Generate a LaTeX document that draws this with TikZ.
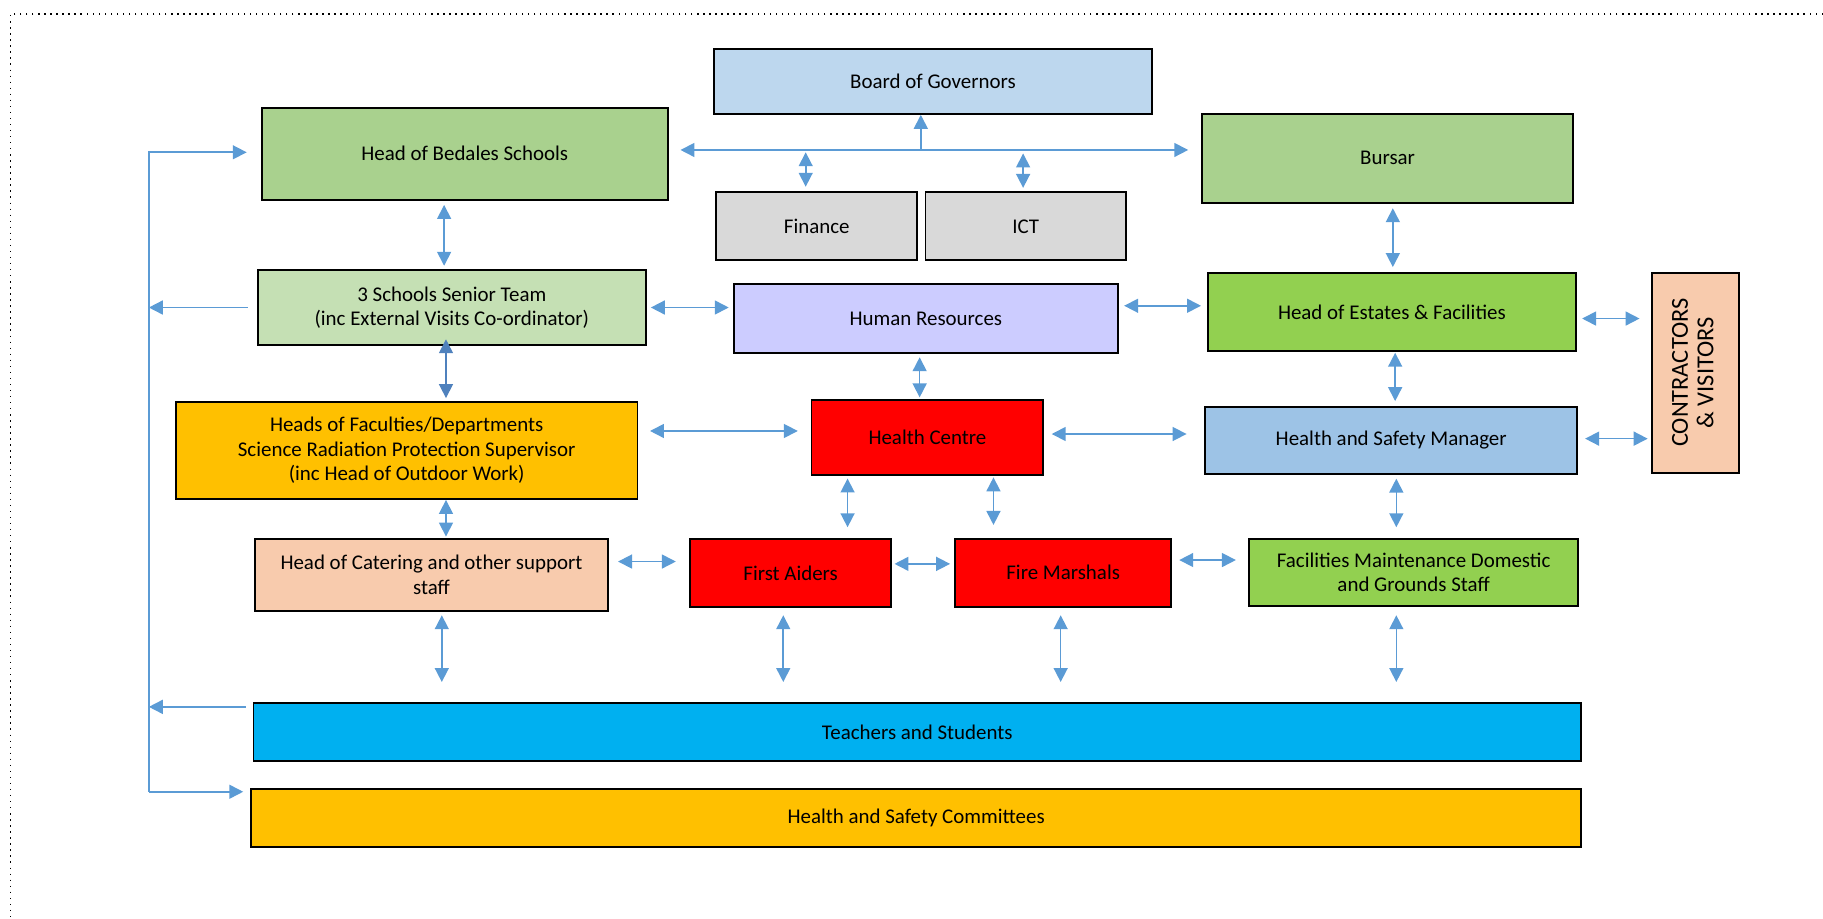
\documentclass[tikz,border=0pt]{standalone}
\usepackage{fontspec}
\setmainfont{Carlito}
\usepackage{xcolor}
\usepackage{tikz}
\usetikzlibrary{arrows.meta}

\definecolor{govblue}{HTML}{BDD7EE}
\definecolor{headgreen}{HTML}{A9D18E}
\definecolor{deptgrey}{HTML}{D9D9D9}
\definecolor{teamgreen}{HTML}{C5E0B4}
\definecolor{hrlilac}{HTML}{CCCCFF}
\definecolor{estgreen}{HTML}{92D050}
\definecolor{peach}{HTML}{F8CBAD}
\definecolor{amber}{HTML}{FFC000}
\definecolor{hsblue}{HTML}{9DC3E6}
\definecolor{skyblue}{HTML}{00B0F0}
\definecolor{linkblue}{HTML}{5B9BD5}
\definecolor{darklink}{HTML}{4F81BD}

\tikzset{
  box/.style={draw=black, line width=0.8pt, align=center, inner sep=2pt, font=\fontsize{9}{10.6}\selectfont},
  link/.style={draw=linkblue, line width=0.7pt, shorten <=2pt, shorten >=2pt},
}

\begin{document}
\begin{tikzpicture}[x=0.5pt, y=-0.5pt, >={Triangle[length=6pt,width=6pt]}]
\useasboundingbox (0,0) rectangle (1568,790);
\draw[dotted, line width=0.6pt] (1568,12) -- (9,12) -- (9,790);

\node[box, fill=govblue, minimum width=188.5pt, minimum height=28pt] (board) at (802.5,70) {Board of Governors};
\node[box, fill=headgreen, minimum width=174.75pt, minimum height=39.7pt] (bedales) at (399.75,132.3) {Head of Bedales Schools};
\node[box, fill=headgreen, minimum width=159.5pt, minimum height=38.15pt] (bursar) at (1193.5,136.15) {Bursar};
\node[box, fill=deptgrey, minimum width=86.5pt, minimum height=29.3pt] (finance) at (702.5,194.7) {Finance};
\node[box, fill=deptgrey, minimum width=86.25pt, minimum height=29.3pt] (ict) at (882.25,194.7) {ICT};
\node[box, fill=teamgreen, minimum width=167pt, minimum height=32.5pt] (senior) at (388.6,264.5) {3 Schools Senior Team\\(inc External Visits Co-ordinator)};
\node[box, fill=hrlilac, minimum width=165.35pt, minimum height=29.6pt] (hr) at (796.35,273.9) {Human Resources};
\node[box, fill=estgreen, minimum width=158.2pt, minimum height=33.75pt] (estates) at (1197.2,268.25) {Head of Estates \& Facilities};
\node[box, fill=peach, minimum width=37.3pt, minimum height=86.05pt, font=\fontsize{10.5}{11}\selectfont] (contractors) at (1458.3,320.55) {\rotatebox{90}{\begin{tabular}{@{}c@{}}CONTRACTORS\\\& VISITORS\end{tabular}}};
\node[box, fill=amber, minimum width=198.5pt, minimum height=41.7pt] (faculties) at (349.8,387.5) {Heads of Faculties/Departments\\Science Radiation Protection Supervisor\\(inc Head of Outdoor Work)};
\node[box, fill=red, minimum width=99.7pt, minimum height=32.4pt] (centre) at (797.7,376.4) {Health Centre};
\node[box, fill=hsblue, minimum width=160pt, minimum height=28.8pt] (manager) at (1196.6,378.6) {Health and Safety Manager};
\node[box, fill=peach, minimum width=151.85pt, minimum height=31.25pt] (catering) at (371.15,494.55) {Head of Catering and other support\\staff};
\node[box, fill=red, minimum width=86.55pt, minimum height=29.45pt] (aiders) at (680.05,492.75) {First Aiders};
\node[box, fill=red, minimum width=93.05pt, minimum height=29.35pt] (marshals) at (914.45,492.65) {Fire Marshals};
\node[box, fill=estgreen, minimum width=141.7pt, minimum height=28.85pt] (maint) at (1215.9,492.15) {Facilities Maintenance Domestic\\and Grounds Staff};
\node[box, fill=skyblue, minimum width=571pt, minimum height=25.1pt] (teachers) at (789,629.5) {Teachers and Students};
\node[box, fill=amber, minimum width=572pt, minimum height=24.9pt] (committees) at (788,703.9) {Health and Safety Committees};

\coordinate (junc) at (792,129);
\coordinate (ltop) at (128,131);
\coordinate (lbot) at (128,681);

% governors bar
\draw[link, <->, shorten <=5pt, shorten >=5.6pt] (bedales.east|-junc) -- (bursar.west|-junc);
\draw[link, ->, shorten <=0pt, shorten >=0pt] (junc) -- (board.south-|junc);
\draw[link, <->, shorten <=1pt, shorten >=2pt] (693,0|-junc) -- (finance.north-|693,0);
\draw[link, <->, shorten <=1.5pt, shorten >=1.5pt] (880,0|-junc) -- (ict.north-|880,0);

\draw[link, <->, shorten <=1.75pt, shorten >=1.3pt] (bedales.south-|382,0) -- (senior.north-|382,0);
\draw[link, <->] (bursar.south-|1198,0) -- (estates.north-|1198,0);
\draw[link, <->, draw=darklink, shorten <=-3pt, shorten >=1.3pt] (senior.south-|383.6,0) -- (faculties.north-|383.6,0);
\draw[link, <->, shorten <=1.5pt, shorten >=0.7pt] (hr.south-|791,0) -- (centre.north-|791,0);
\draw[link, <->, shorten <=0.3pt, shorten >=2pt] (estates.south-|1200,0) -- (manager.north-|1200,0);
\draw[link, <->, shorten <=0pt, shorten >=0.5pt] (faculties.south-|383.6,0) -- (catering.north-|383.6,0);
\draw[link, <->, shorten <=1pt, shorten >=4.5pt] (centre.south-|729,0) -- (aiders.north-|729,0);
\draw[link, <->, shorten <=0.5pt, shorten >=5.5pt] (centre.south-|854.5,0) -- (marshals.north-|854.5,0);
\draw[link, <->, shorten <=1.75pt, shorten >=4.5pt] (manager.south-|1201,0) -- (maint.north-|1201,0);
\foreach \n/\x/\s in {catering/380/1.3, aiders/673.7/3.1, marshals/912.3/3.2, maint/1201/3.7}
  \draw[link, <->, shorten <=\s pt, shorten >=8.5pt] (\n.south-|\x,0) -- (teachers.north-|\x,0);

\draw[link, <->, shorten <=1.7pt, shorten >=1.7pt] (senior.east) -- (hr.west|-senior.east);
\draw[link, <->, shorten <=2.2pt, shorten >=2.6pt] (hr.east|-0,263) -- (estates.west|-0,263);
\draw[link, <->, shorten <=2.3pt, shorten >=5pt] (estates.east|-0,274) -- (contractors.west|-0,274);
\draw[link, <->, shorten <=5pt, shorten >=5.5pt] (faculties.east|-0,370.7) -- (centre.west|-0,370.7);
\draw[link, <->, shorten <=3.2pt, shorten >=7.6pt] (centre.east|-0,373.3) -- (manager.west|-0,373.3);
\draw[link, <->, shorten <=3pt, shorten >=1.5pt] (manager.east|-0,377.3) -- (contractors.west|-0,377.3);
\draw[link, <->, shorten <=3.9pt, shorten >=5.7pt] (catering.east|-0,483) -- (aiders.west|-0,483);
\draw[link, <->, shorten <=1pt, shorten >=1.7pt] (aiders.east|-0,485) -- (marshals.west|-0,485);
\draw[link, <->, shorten <=3pt, shorten >=5.2pt] (marshals.east|-0,481.7) -- (maint.west|-0,481.7);

% left return line
\draw[link, ->, shorten <=0pt, shorten >=6pt] (lbot) -- (ltop) -- (bedales.west|-ltop);
\draw[link, ->, shorten <=0pt, shorten >=3pt] (lbot) -- (committees.west|-lbot);
\draw[link, ->, shorten <=3.8pt, shorten >=0pt] (senior.west) -- (ltop|-senior.west);
\draw[link, ->, shorten <=3pt, shorten >=0pt] (teachers.west|-0,608) -- (ltop|-0,608);
\end{tikzpicture}
\end{document}
